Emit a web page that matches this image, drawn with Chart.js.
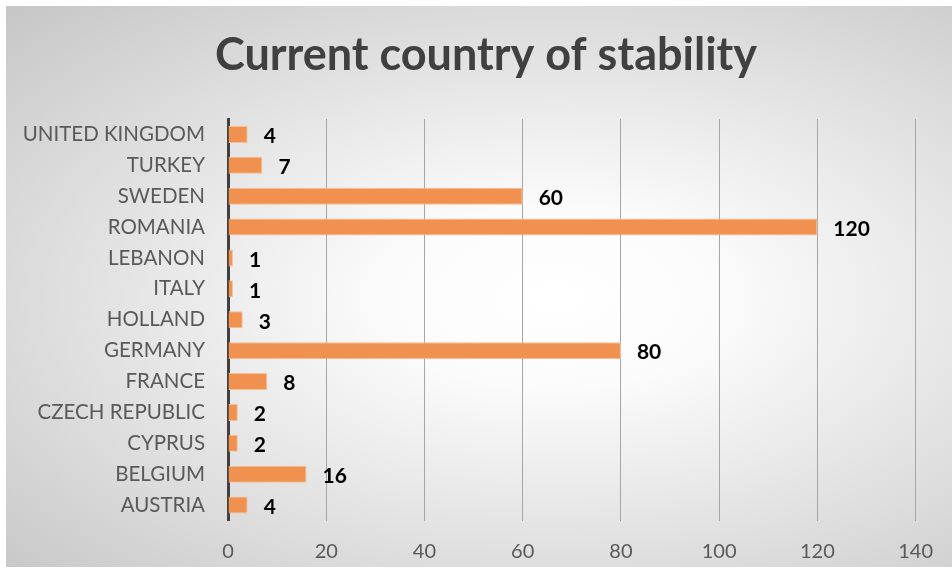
<!DOCTYPE html>
<html>
<head>
<meta charset="utf-8">
<script src="https://cdn.jsdelivr.net/npm/chart.js@4"></script>
<style>
  html, body { margin: 0; padding: 0; background: #fff; }
  #box {
    position: absolute; left: 6px; top: 6px; width: 946px; height: 561px;
    background: radial-gradient(ellipse farthest-corner at 58% 52%, #ffffff 0%, #fbfbfb 22%, #c6c6c6 100%);
  }
  #box canvas { display: block; }
</style>
</head>
<body>
<div id="box"><canvas id="stability_Chart" width="946" height="561"></canvas></div>
<script>
// data, listed as in the source sheet (bottom to top on the chart)
const countries = ['AUSTRIA', 'BELGIUM', 'CYPRUS', 'CZECH REPUBLIC', 'FRANCE', 'GERMANY',
  'HOLLAND', 'ITALY', 'LEBANON', 'ROMANIA', 'SWEDEN', 'TURKEY', 'UNITED KINGDOM'];
const counts = [4, 16, 2, 2, 8, 80, 3, 1, 1, 120, 60, 7, 4];
const xTicks = [0, 20, 40, 60, 80, 100, 120, 140];
const chartTitle = 'Current country of stability';

// small inline plugin for the value labels at the end of each bar,
// plus the title, which sits a bit right of the chart centre in the original
const valueLabels = {
  id: 'valueLabels',
  afterDatasetsDraw(chart) {
    const ctx = chart.ctx;
    ctx.save();
    ctx.font = 'bold 21px Lato';
    ctx.fillStyle = '#000';
    ctx.textAlign = 'left';
    ctx.textBaseline = 'middle';
    chart.getDatasetMeta(0).data.forEach((bar, i) => {
      ctx.fillText(counts[i], bar.x + 16, bar.y + 2);
    });
    const tb = chart.titleBlock;
    ctx.font = 'bold 45px Lato';
    ctx.fillStyle = '#404040';
    ctx.textAlign = 'center';
    ctx.fillText(chartTitle, 480, tb.top + 22 + 27);
    ctx.restore();
  }
};

const ctx_stab = document.getElementById('stability_Chart').getContext('2d');
window.StabilityChart = new Chart(ctx_stab, {
  type: 'bar',
  data: {
    labels: countries,
    datasets: [{
      data: counts,
      backgroundColor: '#F0914F',
      borderColor: '#F7BE96',
      borderWidth: 1,
      barPercentage: 0.55,
      categoryPercentage: 1
    }]
  },
  options: {
    indexAxis: 'y',
    responsive: false,
    animation: false,
    layout: { padding: { left: 0, right: 27, top: 0, bottom: 0 } },
    plugins: {
      legend: { display: false },
      tooltip: { enabled: false },
      title: {
        // only reserves the space, the text is drawn by the plugin above
        display: true,
        text: chartTitle,
        color: 'rgba(0,0,0,0)',
        font: { family: 'Lato', size: 45, weight: 'bold' },
        padding: { top: 22, bottom: 37 }
      }
    },
    scales: {
      x: {
        min: 0,
        max: 140,
        afterBuildTicks: (scale) => { scale.ticks = xTicks.map(v => ({ value: v })); },
        afterFit: (scale) => { scale.height = 46.5; },
        grid: { color: '#a6a6a6', lineWidth: 1, drawTicks: false },
        border: { display: false },
        ticks: { color: '#595959', font: { family: 'Lato', size: 20 }, padding: 19 }
      },
      y: {
        reverse: true,
        afterFit: (scale) => { scale.width = 222; },
        grid: { display: false, drawTicks: false },
        border: { color: '#404040', width: 3 },
        ticks: { color: '#595959', font: { family: 'Lato', size: 20.5 }, padding: 23 }
      }
    }
  },
  plugins: [valueLabels]
});
</script>
</body>
</html>
